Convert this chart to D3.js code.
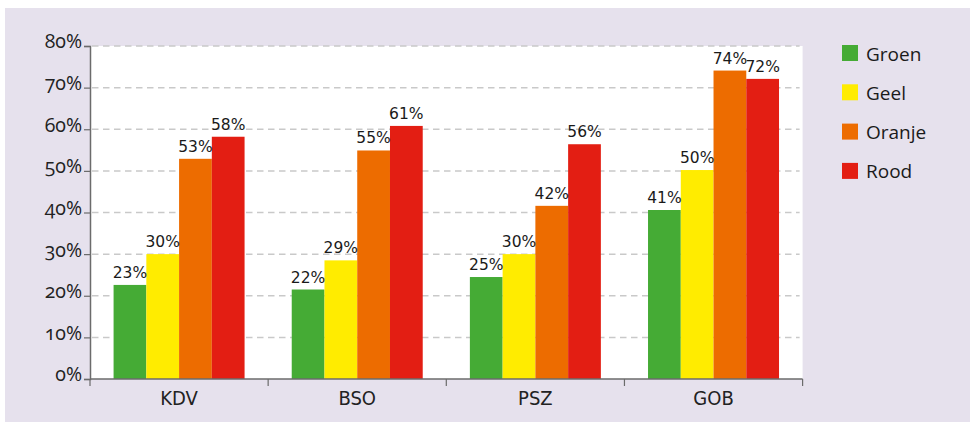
<!DOCTYPE html>
<html>
<head>
<meta charset="utf-8">
<script src="https://cdn.jsdelivr.net/npm/d3@7.9.0/dist/d3.min.js"></script>
<style>
  body { margin: 0; background: #fff; }
  svg { display: block; }
  .ylab text { font-family: "Open Sans", "Noto Sans", sans-serif; font-size: 19.5px; fill: #222; font-variant-numeric: oldstyle-nums; }
  .val { font-family: "DejaVu Sans", sans-serif; font-size: 15.5px; fill: #1a1a1a; }
  .cat { font-family: "DejaVu Sans Condensed", "DejaVu Sans", sans-serif; font-stretch: condensed; font-size: 20px; fill: #222; }
  .leg { font-family: "Open Sans", "Noto Sans", sans-serif; font-size: 19px; fill: #1a1a1a; }
</style>
</head>
<body>
<div id="chart"></div>
<script>
// data (percentages)
const categories = ['KDV', 'BSO', 'PSZ', 'GOB'];
const series = ['Groen', 'Geel', 'Oranje', 'Rood'];
const groen  = [22.6, 21.5, 24.5, 40.6];
const geel   = [30.0, 28.5, 30.0, 50.2];
const oranje = [52.9, 54.9, 41.6, 74.1];
const rood   = [58.2, 60.8, 56.4, 72.1];
const yTicks = [0, 10, 20, 30, 40, 50, 60, 70, 80];

const colors = ['#45ab35', '#ffec00', '#ed6c00', '#e31e13'];
const seriesValues = [groen, geel, oranje, rood];

const width = 970;
const height = 422;
const plot = { left: 90, right: 802.6, top: 46, bottom: 379 };

const svg = d3.select('#chart')
  .append('svg')
  .attr('width', width)
  .attr('height', height);

// lilac panel and white plot area
svg.append('rect')
  .attr('x', 5).attr('y', 8)
  .attr('width', width - 5).attr('height', height - 8)
  .attr('fill', '#e6e1ed');

svg.append('rect')
  .attr('x', plot.left).attr('y', plot.top)
  .attr('width', plot.right - plot.left).attr('height', plot.bottom - plot.top)
  .attr('fill', '#fff');

const x0 = d3.scaleBand()
  .domain(categories)
  .range([plot.left, plot.right])
  .padding(0);

const x1 = d3.scaleBand()
  .domain(series)
  .range([0, x0.bandwidth()])
  .paddingInner(0)
  .paddingOuter(0.72);

const yScale = d3.scaleLinear()
  .domain([0, 80])
  .range([plot.bottom, plot.top]);

// dashed gridlines
svg.append('g')
  .selectAll('line')
  .data(yTicks.filter(d => d > 0))
  .join('line')
    .attr('x1', plot.left + 2)
    .attr('x2', plot.right - 3)
    .attr('y1', d => yScale(d))
    .attr('y2', d => yScale(d))
    .attr('stroke', '#c9c9c9')
    .attr('stroke-width', 1.5)
    .attr('stroke-dasharray', '6.5 4.5');

// bars
const rows = categories.map((c, i) => ({
  cat: c,
  vals: series.map((s, j) => ({ s, j, v: seriesValues[j][i] }))
}));

const groups = svg.append('g')
  .selectAll('g')
  .data(rows)
  .join('g')
    .attr('transform', d => `translate(${x0(d.cat)},0)`);

groups.selectAll('rect')
  .data(d => d.vals)
  .join('rect')
    .attr('x', d => x1(d.s))
    .attr('y', d => yScale(d.v))
    .attr('width', x1.bandwidth())
    .attr('height', d => yScale(0) - yScale(d.v))
    .attr('fill', d => colors[d.j]);

groups.selectAll('text')
  .data(d => d.vals)
  .join('text')
    .attr('class', 'val')
    .attr('x', d => x1(d.s) + x1.bandwidth() / 2)
    .attr('y', d => yScale(d.v) - 7)
    .attr('text-anchor', 'middle')
    .text(d => d3.format('.0f')(d.v) + '%');

// y axis
const yAxis = d3.axisLeft(yScale)
  .tickValues(yTicks)
  .tickSize(6)
  .tickPadding(2)
  .tickFormat(d => d + '%');

const yG = svg.append('g')
  .attr('class', 'ylab')
  .attr('transform', `translate(${plot.left},0)`)
  .call(yAxis);
yG.select('.domain').attr('stroke', '#6b6b6b').attr('stroke-width', 1.5);
yG.selectAll('.tick line').attr('stroke', '#6b6b6b').attr('stroke-width', 1.2);
yG.selectAll('.tick text').attr('dy', '0.1em');

// x axis: line, ticks on band edges, labels centred
const xG = svg.append('g');
xG.append('line')
  .attr('x1', plot.left).attr('x2', plot.right)
  .attr('y1', plot.bottom).attr('y2', plot.bottom)
  .attr('stroke', '#6b6b6b').attr('stroke-width', 1.5);

const edges = categories.map(c => x0(c)).concat([x0(categories[categories.length - 1]) + x0.bandwidth()]);
xG.selectAll('line.tk')
  .data(edges)
  .join('line')
    .attr('class', 'tk')
    .attr('x1', d => d).attr('x2', d => d)
    .attr('y1', plot.bottom).attr('y2', plot.bottom + 7)
    .attr('stroke', '#6b6b6b').attr('stroke-width', 1.2);

xG.selectAll('text')
  .data(categories)
  .join('text')
    .attr('class', 'cat')
    .attr('x', d => x0(d) + x0.bandwidth() / 2)
    .attr('y', 405)
    .attr('text-anchor', 'middle')
    .text(d => d);

// legend
const legend = svg.append('g')
  .attr('transform', 'translate(842,45)');

const li = legend.selectAll('g')
  .data(series)
  .join('g')
    .attr('transform', (d, i) => `translate(0,${i * 39.3})`);

li.append('rect')
  .attr('width', 16).attr('height', 16)
  .attr('fill', (d, i) => colors[i]);

li.append('text')
  .attr('class', 'leg')
  .attr('x', 24)
  .attr('y', 15.5)
  .text(d => d);
</script>
</body>
</html>
